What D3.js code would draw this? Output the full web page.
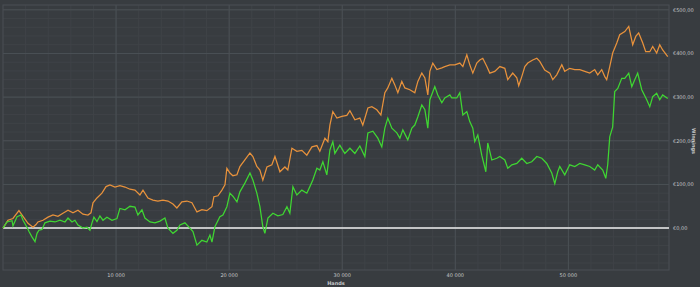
<!DOCTYPE html>
<html>
<head>
<meta charset="utf-8">
<script src="https://cdn.jsdelivr.net/npm/d3@7"></script>
<style>
  html, body { margin: 0; padding: 0; background: #383c40; }
  svg { display: block; font-family: "DejaVu Sans", sans-serif; }
</style>
</head>
<body>
<svg id="chart" width="700" height="287"></svg>
<script>
// hands played / winnings in euro
const orangeHands = [0,440,880,1410,1770,2210,2650,2920,3090,3540,3980,4420,4860,5300,5750,6190,6630,7070,7510,7780,7960,8310,8750,9110,9460,9900,10340,10790,11230,11670,12110,12380,12820,13260,13700,14140,14590,15030,15380,15820,16270,16710,17150,17590,18030,18480,18650,19010,19360,19630,19800,20070,20330,20690,20950,21390,21840,22100,22450,22720,22980,23340,23780,24050,24490,24930,25190,25550,25990,26430,26870,27320,27760,28020,28470,28730,28910,29170,29530,29970,30410,30680,31120,31560,31820,32270,32620,33060,33420,33770,34030,34390,34650,34920,35270,35540,35980,36420,36690,37040,37310,37570,37750,38010,38370,38810,39070,39520,39960,40400,40670,41020,41280,41550,41900,42170,42430,42790,43050,43490,43940,44380,44640,45080,45440,45610,45880,46150,46410,46850,47210,47470,47910,48360,48620,48970,49420,49680,50120,50570,51010,51450,51890,52330,52600,52950,53220,53390,53660,53920,54280,54540,54990,55340,55690,55960,56220,56580,56840,57200,57460,57810,58080,58340,58790];
const orangeWin = [0,18,22,40,27,11,2,8,14,18,25,30,27,34,41,35,41,32,30,35,58,69,80,95,99,94,97,94,89,87,76,87,69,64,62,64,62,55,46,60,62,58,37,42,40,49,72,74,87,99,137,126,120,122,141,156,172,164,141,133,110,140,145,164,129,140,133,183,176,178,167,186,189,176,206,198,236,267,252,256,258,269,248,252,236,275,278,271,259,310,321,343,328,310,336,321,317,310,336,355,344,305,359,378,363,367,370,374,374,378,370,397,374,355,378,385,389,370,355,359,370,366,340,355,344,326,347,370,378,385,389,382,362,355,340,351,374,359,366,363,363,359,355,363,351,363,347,340,370,401,424,443,450,462,420,439,447,424,404,404,416,401,420,408,393];

const greenHands = [0,350,800,880,1240,1590,1770,2120,2300,2560,2830,3010,3180,3450,3710,4150,4600,5040,5480,5750,6100,6360,6630,7070,7430,7690,7870,8040,8310,8570,8840,9190,9640,10080,10340,10790,11230,11670,11930,12290,12550,13000,13440,13880,14320,14590,15030,15380,15650,16090,16530,16800,17150,17590,18030,18300,18480,18740,19180,19450,19800,20070,20330,20690,20950,21390,21840,22100,22450,22720,22980,23160,23430,23870,24310,24750,25110,25370,25640,25990,26430,26870,27140,27400,27760,28020,28290,28640,28910,29170,29350,29790,30060,30230,30680,31120,31560,32000,32270,32710,33150,33500,33770,34030,34390,34830,35100,35360,35800,36160,36420,36690,37040,37310,37570,37750,38190,38450,38810,39070,39520,39690,40130,40400,40670,41020,41280,41550,41720,41990,42340,42700,42870,43230,43670,43940,44380,44640,45000,45440,45880,46320,46760,47210,47650,48090,48530,48800,49060,49240,49680,50120,50570,51010,51450,51890,52330,52600,53040,53310,53480,53660,53920,54100,54370,54720,54990,55340,55610,55870,56130,56490,56930,57200,57460,57810,58080,58340,58790];
const greenWin = [0,14,17,5,26,30,18,2,-8,-20,-31,-12,-5,-3,12,16,14,18,14,23,14,18,7,0,2,-5,12,25,15,28,18,25,18,22,45,42,50,48,30,42,23,14,12,16,23,0,-12,-5,7,12,0,-8,-39,-28,-32,-16,-32,3,26,30,49,80,73,60,83,103,126,110,80,49,3,-12,23,34,28,31,49,34,95,76,87,80,95,110,137,133,152,122,179,198,171,190,178,171,183,171,188,164,218,222,206,186,229,252,229,218,206,225,202,229,236,255,282,271,229,294,324,305,287,298,305,298,298,310,259,267,244,229,198,213,167,129,195,156,160,164,156,137,145,148,160,148,152,164,160,148,126,102,129,141,122,145,141,148,145,141,133,145,133,114,145,209,232,313,320,343,343,355,324,340,355,317,294,278,301,309,294,305,297];

const xTicks = [10000, 20000, 30000, 40000, 50000];
const yTicks = [0, 100, 200, 300, 400, 500];

const svg = d3.select("#chart");
const plotLeft = 3, plotRight = 669, plotTop = 5, plotBottom = 270;

const x = d3.scaleLinear().domain([0, 58900]).range([plotLeft, plotRight]);
const y = d3.scaleLinear().domain([-96, 511]).range([plotBottom, plotTop]);

// minor grid
const g = svg.append("g");
g.selectAll("line.vminor")
    .data(d3.range(2000, 58900, 2000))
    .enter().append("line")
    .attr("x1", d => x(d)).attr("x2", d => x(d))
    .attr("y1", plotTop).attr("y2", plotBottom)
    .attr("stroke", "#3f4347").attr("stroke-width", 1);
g.selectAll("line.hminor")
    .data(d3.range(-80, 511, 20))
    .enter().append("line")
    .attr("x1", plotLeft).attr("x2", plotRight)
    .attr("y1", d => y(d)).attr("y2", d => y(d))
    .attr("stroke", "#3f4347").attr("stroke-width", 1);

// major grid
g.selectAll("line.vmajor")
    .data(xTicks)
    .enter().append("line")
    .attr("x1", d => x(d)).attr("x2", d => x(d))
    .attr("y1", plotTop).attr("y2", plotBottom)
    .attr("stroke", "#4b5055").attr("stroke-width", 1);
g.selectAll("line.hmajor")
    .data(yTicks)
    .enter().append("line")
    .attr("x1", plotLeft).attr("x2", plotRight)
    .attr("y1", d => y(d)).attr("y2", d => y(d))
    .attr("stroke", "#4b5055").attr("stroke-width", 1);

svg.append("rect")
    .attr("x", plotLeft).attr("y", plotTop)
    .attr("width", plotRight - plotLeft).attr("height", plotBottom - plotTop)
    .attr("fill", "none").attr("stroke", "#4a4f54");

// zero line
svg.append("line")
    .attr("x1", plotLeft).attr("x2", plotRight)
    .attr("y1", y(0)).attr("y2", y(0))
    .attr("stroke", "#eeeeee").attr("stroke-width", 1.5);

const line = d3.line().x(d => x(d[0])).y(d => y(d[1]));

svg.append("path")
    .datum(d3.zip(orangeHands, orangeWin))
    .attr("d", line)
    .attr("fill", "none")
    .attr("stroke", "#e8923c")
    .attr("stroke-width", 1.25)
    .attr("stroke-linejoin", "miter");

svg.append("path")
    .datum(d3.zip(greenHands, greenWin))
    .attr("d", line)
    .attr("fill", "none")
    .attr("stroke", "#3fd632")
    .attr("stroke-width", 1.25)
    .attr("stroke-linejoin", "miter");

// axes labels
const fmtHands = d => d3.format(",")(d).replace(/,/g, " ");
svg.selectAll("text.xt")
    .data(xTicks)
    .enter().append("text")
    .attr("x", d => x(d)).attr("y", 277)
    .attr("text-anchor", "middle")
    .attr("font-size", 5)
    .attr("fill", "#c4c7c9")
    .text(fmtHands);

svg.selectAll("text.yt")
    .data(yTicks)
    .enter().append("text")
    .attr("x", 673).attr("y", d => y(d) + 1.8)
    .attr("font-size", 5)
    .attr("fill", "#c4c7c9")
    .text(d => "€" + d + ",00");

svg.append("text")
    .attr("x", (plotLeft + plotRight) / 2).attr("y", 285)
    .attr("text-anchor", "middle")
    .attr("font-size", 5)
    .attr("font-weight", "bold")
    .attr("fill", "#c4c7c9")
    .text("Hands");

svg.append("text")
    .attr("transform", "translate(692,141) rotate(90)")
    .attr("text-anchor", "middle")
    .attr("font-size", 5)
    .attr("font-weight", "bold")
    .attr("fill", "#c4c7c9")
    .text("Winnings");
</script>
</body>
</html>
